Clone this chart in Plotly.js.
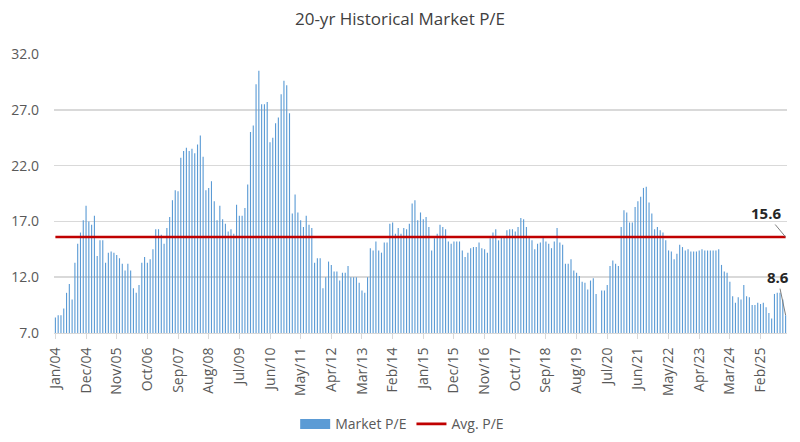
<!DOCTYPE html>
<html>
<head>
<meta charset="utf-8">
<script src="https://cdn.plot.ly/plotly-3.0.1.min.js"></script>
<style>html,body{margin:0;padding:0;background:#fff;}#chart{width:800px;height:442px;}</style>
</head>
<body>
<div id="chart"></div>
<script>
// Monthly Market P/E, Jan/04 .. Nov/25 (null = no bar shown)
const marketPE = [
  8.4, 8.6, 8.6, 9.2, 10.6, 11.4, 10.0, 13.3, 15.0, 16.0, 17.1, 18.4,
  17.0, 16.7, 17.5, 13.9, 15.3, 15.3, 13.3, 14.2, 14.3, 14.2, 14.0, 13.7,
  13.2, 12.6, 13.2, 12.6, 11.0, 10.6, 11.3, 13.3, 13.8, 13.3, 13.6, 14.5,
  16.3, 16.3, 15.8, 15.0, 16.4, 17.4, 18.9, 19.8, 19.7, 22.7, 23.3, 23.6,
  23.3, 23.5, 23.1, 23.9, 24.7, 22.8, 19.8, 20.0, 20.6, 18.8, 17.1, 18.4,
  17.2, 16.8, 16.1, 16.3, 15.9, 18.5, 17.5, 17.5, 18.2, 20.3, 25.0, 25.6,
  29.3, 30.5, 27.5, 27.5, 27.7, 24.1, 24.5, 25.8, 26.3, 28.4, 29.6, 29.2,
  26.7, 17.7, 19.4, 17.8, 17.1, 16.5, 17.5, 16.7, 16.4, 13.3, 13.7, 13.7,
  11.0, 12.0, 13.4, 13.1, 12.5, 12.5, 11.7, 12.4, 12.4, 13.0, 12.0, 12.0,
  12.0, 11.5, 10.8, 10.6, 12.0, 14.6, 14.4, 15.2, 14.4, 14.2, 15.1, 15.1,
  16.8, 16.9, 15.9, 16.4, 15.9, 16.4, 16.3, 16.8, 18.6, 18.9, 17.1, 17.8,
  17.2, 17.4, 16.5, 14.4, 15.5, 15.9, 16.7, 16.5, 16.3, 15.2, 15.0, 15.2,
  15.2, 15.2, 14.4, 13.8, 14.2, 14.6, 14.7, 14.7, 15.1, 14.6, 14.5, 14.2,
  15.5, 16.0, 16.3, 15.3, 15.7, 15.7, 16.2, 16.3, 16.3, 16.1, 16.5, 17.3,
  17.2, 16.5, 15.6, 15.3, 14.5, 15.0, 15.1, 15.7, 15.2, 15.0, 14.6, 15.2,
  16.4, 15.1, 14.9, 13.2, 13.2, 13.6, 12.6, 12.4, 12.1, 11.6, 11.5, 10.9,
  11.7, 11.9, 10.5, null, 10.8, 10.8, 11.3, 13.0, 13.5, 13.2, 13.0, 16.5,
  18.0, 17.8, 16.9, 16.9, 18.3, 18.8, 19.2, 20.0, 20.1, 18.7, 17.7, 16.3,
  16.5, 16.2, 16.0, 15.3, 14.4, 14.3, 13.6, 14.1, 14.9, 14.7, 14.4, 14.5,
  14.3, 14.3, 14.3, 14.4, 14.5, 14.4, 14.4, 14.4, 14.4, 14.4, 14.5, 13.1,
  12.5, 12.4, 11.6, 10.3, 9.7, 10.2, 10.0, 11.3, 10.3, 10.2, 9.5, 9.5,
  9.7, 9.6, 9.7, 9.3, 8.8, 8.3, 10.5, 10.6, 10.6, 10.0, 8.6
];
const avgPE = 15.6;
const lastPE = 8.6;
const monthNames = ["Jan","Feb","Mar","Apr","May","Jun","Jul","Aug","Sep","Oct","Nov","Dec"];
const startYear = 4; // 2004
const tickLabels = ["Jan/04","Dec/04","Nov/05","Oct/06","Sep/07","Aug/08","Jul/09","Jun/10",
  "May/11","Apr/12","Mar/13","Feb/14","Jan/15","Dec/15","Nov/16","Oct/17","Sep/18","Aug/19",
  "Jul/20","Jun/21","May/22","Apr/23","Mar/24","Feb/25"];
const yTicks = [7, 12, 17, 22, 27, 32];

const categories = marketPE.map((_, i) =>
  monthNames[i % 12] + "/" + String(startYear + Math.floor(i / 12)).padStart(2, "0"));
const firstCat = categories[0];
const lastCat = categories[categories.length - 1];

const font = "Open Sans, Noto Sans, sans-serif";
const barColor = "#5b9bd5";

const traces = [
  {
    type: "bar", name: "Market P/E", x: categories, y: marketPE,
    marker: {color: barColor, line: {width: 0}},
    showlegend: false, hoverinfo: "x+y"
  },
  {
    // legend entry for the bars (wide swatch like the reference)
    type: "scatter", mode: "lines", name: "Market P/E",
    x: [null], y: [null], line: {color: barColor, width: 10}, hoverinfo: "skip"
  },
  {
    type: "scatter", mode: "lines", name: "Avg. P/E",
    x: [firstCat, lastCat], y: [avgPE, avgPE],
    line: {color: "#c00000", width: 2.6}
  }
];

const layout = {
  width: 800, height: 442,
  margin: {l: 54, r: 13, t: 54, b: 109, autoexpand: false},
  paper_bgcolor: "#ffffff", plot_bgcolor: "#ffffff",
  font: {family: font, color: "#595959", size: 14},
  title: {text: "20-yr Historical Market P/E", x: 0.5, xanchor: "center",
          yref: "container", y: 0.958, yanchor: "middle",
          font: {family: font, size: 17, color: "#404040"}},
  bargap: 0.6,
  showlegend: true,
  legend: {orientation: "h", x: 0.475, xanchor: "center", yref: "container", y: 0.04, yanchor: "middle",
           font: {family: font, size: 14, color: "#595959"}, tracegroupgap: 0},
  xaxis: {
    type: "category", range: [-0.5, categories.length - 0.5], automargin: false,
    tickmode: "array", tickvals: tickLabels, ticktext: tickLabels,
    tickangle: -90, ticks: "outside", ticklen: 5, tickcolor: "#d9d9d9",
    ticklabelstandoff: 3,
    showline: true, linecolor: "#d9d9d9", linewidth: 1,
    showgrid: false, zeroline: false,
    tickfont: {family: font, size: 14, color: "#595959"}
  },
  yaxis: {
    range: [7, 32], tickmode: "array", tickvals: yTicks, tickformat: ".1f", automargin: false,
    showgrid: true, gridcolor: "#d9d9d9", gridwidth: 1.5,
    zeroline: false, showline: false, ticks: "", ticklabelstandoff: 14,
    tickfont: {family: font, size: 14, color: "#595959"}
  },
  annotations: [
    {x: lastCat, y: avgPE, xref: "x", yref: "y", text: "<b>" + avgPE.toFixed(1) + "</b>",
     showarrow: true, arrowhead: 0, arrowwidth: 1, arrowcolor: "#7f7f7f", ax: -20, ay: -24,
     font: {family: font, size: 15, color: "#262626"}},
    {x: lastCat, y: lastPE, xref: "x", yref: "y", text: "<b>" + lastPE.toFixed(1) + "</b>",
     showarrow: true, arrowhead: 0, arrowwidth: 1, arrowcolor: "#7f7f7f", ax: -8, ay: -38,
     font: {family: font, size: 15, color: "#262626"}}
  ]
};

Plotly.newPlot("chart", traces, layout, {displayModeBar: false, staticPlot: true});
</script>
</body>
</html>
